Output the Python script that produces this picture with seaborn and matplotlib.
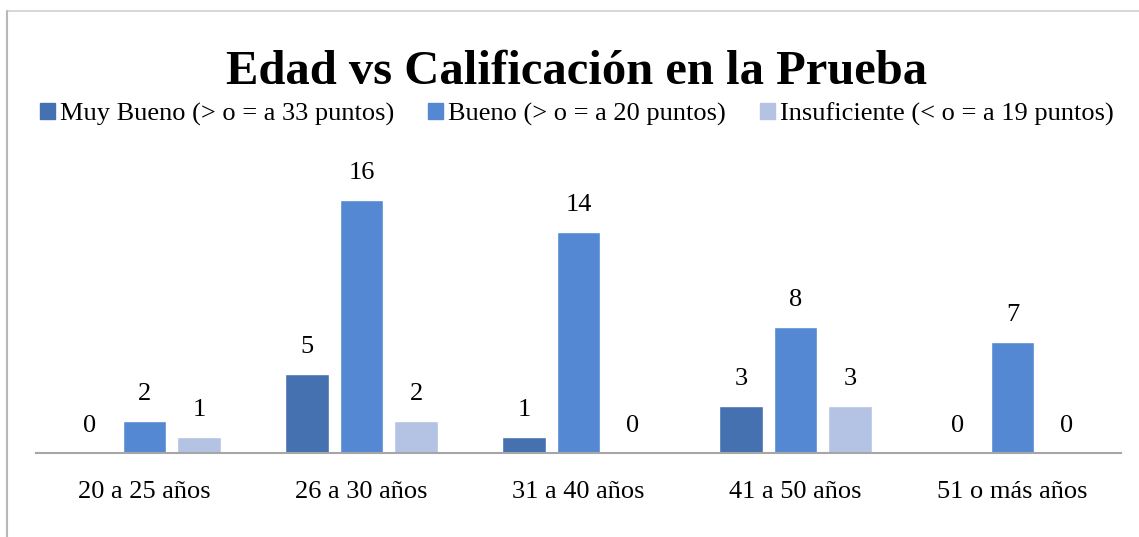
import numpy as np
import pandas as pd
import matplotlib
matplotlib.use("Agg")
import matplotlib.pyplot as plt
from matplotlib.lines import Line2D
import seaborn as sns

sns.set_style("white")
plt.rcParams['font.family'] = ['Liberation Serif', 'DejaVu Serif']
plt.rcParams['text.color'] = 'black'
plt.rcParams['xtick.color'] = 'black'

# datos del grafico
grupos_edad = ["20 a 25 años", "26 a 30 años", "31 a 40 años", "41 a 50 años", "51 o más años"]
series = ["Muy Bueno (> o = a 33 puntos)", "Bueno (> o = a 20 puntos)", "Insuficiente (< o = a 19 puntos)"]
muy_bueno = [0, 5, 1, 3, 0]
bueno = [2, 16, 14, 8, 7]
insuficiente = [1, 2, 0, 3, 0]
colores = ["#4571B0", "#5488D3", "#B4C3E3"]

df = pd.DataFrame({
    "Edad": grupos_edad * 3,
    "Serie": [series[0]] * 5 + [series[1]] * 5 + [series[2]] * 5,
    "Valor": muy_bueno + bueno + insuficiente,
})

W, H = 1139, 537
fig = plt.figure(figsize=(W / 100, H / 100), dpi=100)
ax = fig.add_axes([36 / W, 1 - 453 / H, (1121 - 36) / W, (453 - 150) / H])

sns.barplot(data=df, x="Edad", y="Valor", hue="Serie", order=grupos_edad,
            hue_order=series, palette=colores, width=0.754, gap=0.21,
            saturation=1, ax=ax, legend=False)

ax.set_ylim(0, 303 / 15.8)
ax.set_xlim(-0.5, len(grupos_edad) - 0.5)

# etiquetas de valores
for cont in ax.containers:
    for bar in cont:
        h = bar.get_height()
        ax.annotate(f"{int(h)}", (bar.get_x() + bar.get_width() / 2, h),
                    xytext=(0, 19.5), textcoords="offset points",
                    ha="center", va="center", fontsize=19)

ax.set_xlabel("")
ax.set_ylabel("")
ax.set_yticks([])
ax.tick_params(axis="x", length=0, labelsize=19, pad=20)
for s in ["top", "right", "left"]:
    ax.spines[s].set_visible(False)
ax.spines["bottom"].set_color("#A6A6A6")
ax.spines["bottom"].set_linewidth(1.5)

# titulo
fig.text(577 / W, 1 - 83.5 / H, "Edad vs Calificación en la Prueba",
         ha="center", va="baseline", fontsize=35, fontweight="bold")

# leyenda
handles = [plt.Rectangle((0, 0), 1, 1, color=c) for c in colores]
fig.legend(handles, series, loc="center", bbox_to_anchor=(577 / W, 1 - 114 / H),
           ncol=3, frameon=False, fontsize=19, handlelength=0.55,
           handleheight=0.55, handletextpad=0.2, columnspacing=1.3,
           borderaxespad=0, borderpad=0)

# borde del grafico
fig.add_artist(Line2D([7 / W, 1], [1 - 11 / H, 1 - 11 / H], color="#D0D0D0", lw=1.2))
fig.add_artist(Line2D([7 / W, 7 / W], [0, 1 - 11 / H], color="#B8B8B8", lw=1.5))

fig.savefig("out.png", dpi=100)
